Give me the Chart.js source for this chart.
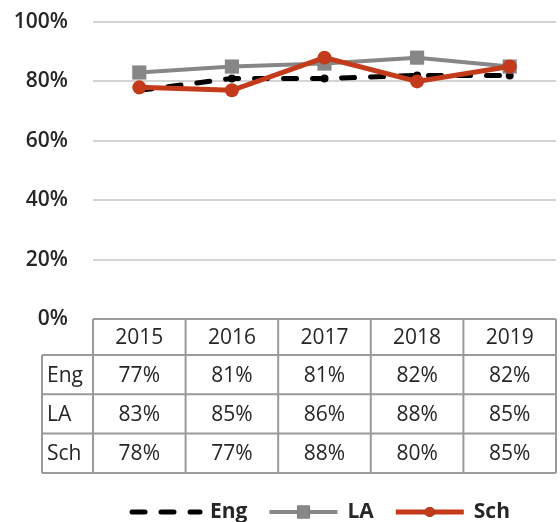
<!DOCTYPE html>
<html>
<head>
<meta charset="utf-8">
<script src="https://cdn.jsdelivr.net/npm/chart.js@4.4.1/dist/chart.umd.min.js"></script>
<style>
html, body { margin: 0; padding: 0; overflow: hidden; background: #fff; }
#wrap { position: relative; width: 566px; height: 522px; }
</style>
</head>
<body>
<div id="wrap"><canvas id="mycanvas"></canvas></div>
<script>
var years = ['2015', '2016', '2017', '2018', '2019'];
var eng = [77, 81, 81, 82, 82];
var la = [83, 85, 86, 88, 85];
var sch = [78, 77, 88, 80, 85];
var yTicks = [0, 20, 40, 60, 80, 100];

var FONT = "'Open Sans', 'Noto Sans', sans-serif";
var TEXT = '#262626';
var RED = '#c43b1c';
var GRAY = '#878787';
var BORDER = '#9a9a9a';

var rows = [
  { label: 'Eng', values: eng },
  { label: 'LA', values: la },
  { label: 'Sch', values: sch }
];

// data table under the plot, columns taken from the x scale
var dataTable = {
  id: 'dataTable',
  afterDraw: function(chart) {
    var ctx = chart.ctx;
    var x = chart.scales.x;
    var step = x.getPixelForValue(1) - x.getPixelForValue(0);
    var left = x.getPixelForValue(0) - step / 2;
    var right = x.getPixelForValue(years.length - 1) + step / 2;
    var labelLeft = 42;
    var top = chart.chartArea.bottom;
    var headH = 36, rowH = 39.3;
    var bottom = top + headH + rows.length * rowH;

    ctx.save();
    ctx.strokeStyle = BORDER;
    ctx.lineWidth = 2;
    ctx.beginPath();
    ctx.moveTo(left, top);
    ctx.lineTo(right, top);
    for (var r = 0; r <= rows.length; r++) {
      var yy = top + headH + r * rowH;
      ctx.moveTo(labelLeft, yy);
      ctx.lineTo(right, yy);
    }
    ctx.moveTo(labelLeft, top + headH);
    ctx.lineTo(labelLeft, bottom);
    for (var c = 0; c <= years.length; c++) {
      var xx = left + c * step;
      ctx.moveTo(xx, top);
      ctx.lineTo(xx, bottom);
    }
    ctx.stroke();

    ctx.fillStyle = TEXT;
    ctx.font = '21px ' + FONT;
    ctx.textBaseline = 'middle';
    ctx.textAlign = 'center';
    for (var i = 0; i < years.length; i++) {
      ctx.fillText(years[i], x.getPixelForValue(i), top + headH / 2 + 1);
    }
    for (var r2 = 0; r2 < rows.length; r2++) {
      var cy = top + headH + r2 * rowH + rowH / 2 + 1;
      ctx.textAlign = 'left';
      ctx.fillText(rows[r2].label, labelLeft + 5, cy);
      ctx.textAlign = 'center';
      for (var j = 0; j < years.length; j++) {
        ctx.fillText(rows[r2].values[j] + '%', x.getPixelForValue(j), cy);
      }
    }
    ctx.restore();
  }
};

// legend drawn as line + marker like the spreadsheet one
var lineLegend = {
  id: 'lineLegend',
  afterDraw: function(chart) {
    var ctx = chart.ctx;
    var lineLen = 68, gap = 10, itemGap = 22;
    var cy = 512;
    ctx.save();
    ctx.font = 'bold 21px ' + FONT;
    var items = chart.data.datasets.map(function(ds) {
      return { ds: ds, w: ctx.measureText(ds.label).width };
    });
    var total = 0;
    items.forEach(function(it, k) {
      total += lineLen + gap + it.w + (k ? itemGap : 0);
    });
    var px = 321 - total / 2;
    items.forEach(function(it) {
      var ds = it.ds;
      ctx.save();
      ctx.strokeStyle = ds.borderColor;
      ctx.lineWidth = ds.borderWidth;
      ctx.lineCap = ds.borderCapStyle || 'butt';
      ctx.setLineDash(ds.borderDash || []);
      ctx.beginPath();
      ctx.moveTo(px, cy);
      ctx.lineTo(px + lineLen, cy);
      ctx.stroke();
      ctx.restore();
      if (!ds.borderDash) {
        Chart.helpers.drawPoint(ctx, {
          pointStyle: ds.pointStyle,
          radius: ds.legendRadius,
          borderWidth: 0
        }, px + lineLen / 2, cy);
        ctx.fillStyle = ds.pointBackgroundColor;
        ctx.fill();
      }
      ctx.fillStyle = TEXT;
      ctx.textAlign = 'left';
      ctx.textBaseline = 'middle';
      ctx.fillText(ds.label, px + lineLen + gap, cy);
      px += lineLen + gap + it.w + itemGap;
    });
    ctx.restore();
  }
};

var chartdata = {
  labels: years,
  datasets: [
    {
      label: 'Eng',
      data: eng,
      borderColor: '#000000',
      backgroundColor: '#000000',
      borderWidth: 5,
      borderDash: [13, 16],
      borderCapStyle: 'round',
      pointRadius: 4,
      pointBackgroundColor: '#000000',
      pointBorderWidth: 0,
      order: 2
    },
    {
      label: 'LA',
      data: la,
      borderColor: GRAY,
      backgroundColor: GRAY,
      borderWidth: 4,
      pointStyle: 'rect',
      pointRadius: 10,
      legendRadius: 9,
      pointBackgroundColor: GRAY,
      pointBorderWidth: 0,
      order: 1
    },
    {
      label: 'Sch',
      data: sch,
      borderColor: RED,
      backgroundColor: RED,
      borderWidth: 5,
      pointStyle: 'circle',
      pointRadius: 7,
      legendRadius: 5,
      pointBackgroundColor: RED,
      pointBorderWidth: 0,
      order: 0
    }
  ]
};

var ctx = document.getElementById('mycanvas');

var LineGraph = new Chart(ctx, {
  type: 'line',
  data: chartdata,
  plugins: [dataTable, lineLegend],
  options: {
    responsive: true,
    maintainAspectRatio: false,
    animation: false,
    layout: { padding: { top: 22, right: 3, bottom: 203, left: 0 } },
    plugins: {
      legend: { display: false },
      tooltip: { enabled: false }
    },
    scales: {
      x: { display: false, offset: true },
      y: {
        min: 0,
        max: 100,
        afterBuildTicks: function(s) {
          s.ticks = yTicks.map(function(v) { return { value: v }; });
        },
        afterFit: function(s) {
          s.width = 93;
          s.paddingTop = 0;
          s.paddingBottom = 0;
        },
        ticks: {
          padding: 25,
          color: TEXT,
          font: { family: FONT, size: 21, weight: '600' },
          callback: function(v) { return v + '%'; }
        },
        grid: { color: '#d4d4d4', lineWidth: 2, drawTicks: false },
        border: { display: false }
      }
    }
  }
});
</script>
</body>
</html>
